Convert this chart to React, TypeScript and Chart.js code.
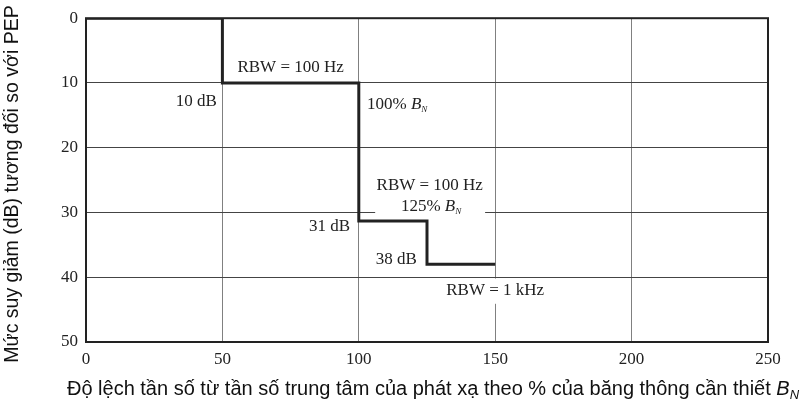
import React, { useEffect, useRef } from "react";
import { Chart, registerables } from "chart.js";

Chart.register(...registerables);

// ---- data ----
const breakX = [0, 50, 100, 125, 150];
const levelDb = [0, 10, 31.3, 38, 38];
const xMin = 0, xMax = 250, xStep = 50;
const yMin = 0, yMax = 50, yStep = 10;
const xTitleText = "Độ lệch tần số từ tần số trung tâm của phát xạ theo % của băng thông cần thiết ";
const yTitleText = "Mức suy giảm (dB) tương đối so với PEP";

type Note = { text: string; x: number; y: number; align: "left" | "center" | "right"; bn?: boolean };
const notes: Note[] = [
  { text: "RBW = 100 Hz", x: 75, y: 7.6, align: "center" },
  { text: "10 dB", x: 48, y: 12.8, align: "right" },
  { text: "100% ", x: 103, y: 13.4, align: "left", bn: true },
  { text: "RBW = 100 Hz", x: 126, y: 25.9, align: "center" },
  { text: "125% ", x: 126.5, y: 29.1, align: "center", bn: true },
  { text: "31 dB", x: 96.8, y: 32.2, align: "right" },
  { text: "38 dB", x: 121.3, y: 37.3, align: "right" },
  { text: "RBW = 1 kHz", x: 150, y: 42.1, align: "center" },
];
// white gaps in grid behind labels (data coords)
const gaps = [
  { x0: 106, x1: 146.3, y0: 29.4, y1: 30.6 },
  { x0: 149, x1: 151, y0: 40.2, y1: 44.1 },
];

const SERIF = "'Liberation Serif', 'Times New Roman', serif";
const SANS = "'Liberation Sans', Arial, sans-serif";
const INK = "#222";

type Part = { t: string; font: string; dy?: number };
function drawRich(ctx: CanvasRenderingContext2D, parts: Part[], x: number, y: number, align: string) {
  let total = 0;
  const widths = parts.map((p) => {
    ctx.font = p.font;
    const w = ctx.measureText(p.t).width;
    total += w;
    return w;
  });
  let cx = align === "left" ? x : align === "right" ? x - total : x - total / 2;
  ctx.textAlign = "left";
  ctx.textBaseline = "middle";
  parts.forEach((p, i) => {
    ctx.font = p.font;
    ctx.fillText(p.t, cx, y + (p.dy || 0));
    cx += widths[i];
  });
}

const notesPlugin = {
  id: "notes",
  beforeDatasetsDraw(chart: any) {
    const { ctx } = chart;
    const xs = chart.scales.x, ys = chart.scales.y;
    ctx.save();
    ctx.fillStyle = "#fff";
    gaps.forEach((g) => {
      const a = xs.getPixelForValue(g.x0), b = xs.getPixelForValue(g.x1);
      const c = ys.getPixelForValue(g.y0), d = ys.getPixelForValue(g.y1);
      ctx.fillRect(Math.min(a, b), Math.min(c, d), Math.abs(b - a), Math.abs(d - c));
    });
    ctx.fillStyle = INK;
    notes.forEach((n) => {
      const parts: Part[] = [{ t: n.text, font: `17px ${SERIF}` }];
      if (n.bn) {
        parts.push({ t: "B", font: `italic 17px ${SERIF}` });
        parts.push({ t: "N", font: `italic 9px ${SERIF}`, dy: 5 });
      }
      drawRich(ctx, parts, xs.getPixelForValue(n.x), ys.getPixelForValue(n.y), n.align);
    });
    ctx.restore();
  },
  afterDraw(chart: any) {
    const { ctx, chartArea: a } = chart;
    ctx.save();
    ctx.strokeStyle = INK;
    ctx.lineWidth = 2;
    ctx.strokeRect(a.left, a.top, a.right - a.left, a.bottom - a.top);
    ctx.fillStyle = "#111";
    drawRich(
      ctx,
      [
        { t: xTitleText, font: `20px ${SANS}` },
        { t: "B", font: `italic 20px ${SANS}` },
        { t: "N", font: `italic 13px ${SANS}`, dy: 6 },
      ],
      433,
      389,
      "center"
    );
    ctx.save();
    ctx.translate(13, 184);
    ctx.rotate(-Math.PI / 2);
    drawRich(ctx, [{ t: yTitleText, font: `19.5px ${SANS}` }], 0, 0, "center");
    ctx.restore();
    ctx.restore();
  },
};

export default function App() {
  const ref = useRef<HTMLCanvasElement>(null);
  useEffect(() => {
    if (!ref.current) return;
    const chart = new Chart(ref.current, {
      type: "line",
      data: {
        datasets: [
          {
            data: breakX.map((x, i) => ({ x, y: levelDb[i] })),
            borderColor: INK,
            borderWidth: 3,
            stepped: "before",
            pointRadius: 0,
            fill: false,
          },
        ],
      },
      options: {
        animation: false,
        responsive: true,
        maintainAspectRatio: false,
        layout: { padding: { left: 0, top: 14, right: 36, bottom: 0 } },
        plugins: { legend: { display: false }, tooltip: { enabled: false } },
        scales: {
          x: {
            type: "linear",
            min: xMin,
            max: xMax,
            ticks: { stepSize: xStep, color: INK, font: { family: SERIF, size: 17 }, padding: 7 },
            grid: { color: "#808080", lineWidth: 1, drawTicks: false },
            border: { display: false },
            afterFit: (s: any) => { s.height = 62; },
          },
          y: {
            type: "linear",
            reverse: true,
            min: yMin,
            max: yMax,
            ticks: { stepSize: yStep, color: INK, font: { family: SERIF, size: 17 }, padding: 8 },
            grid: { color: "#444", lineWidth: 1, drawTicks: false },
            border: { display: false },
            afterFit: (s: any) => { s.width = 86; },
          },
        },
      },
      plugins: [notesPlugin],
    } as any);
    return () => chart.destroy();
  }, []);
  return (
    <div style={{ position: "absolute", left: 0, top: 0, width: 804, height: 404 }}>
      <canvas ref={ref} />
    </div>
  );
}
